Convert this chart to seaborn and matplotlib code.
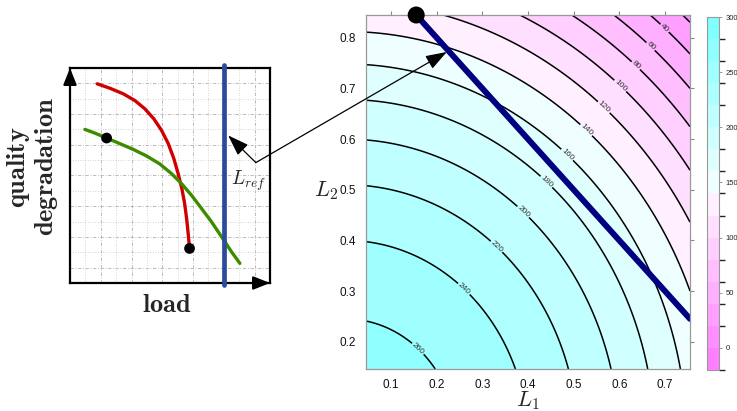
import numpy as np
import matplotlib
matplotlib.use('Agg')
import matplotlib.pyplot as plt
from matplotlib.colors import ListedColormap, BoundaryNorm, hsv_to_rgb
import seaborn as sns

# ---- left sketch (grid units) ----
red_x = [1.77, 2.60, 3.46, 4.22, 4.87, 5.45, 5.95, 6.39, 6.75, 7.03, 7.27, 7.45, 7.58, 7.68, 7.77]
red_y = [12.97, 12.68, 12.32, 11.88, 11.34, 10.69, 9.94, 9.07, 8.10, 7.12, 6.15, 5.18, 4.20, 3.23, 2.25]
green_x = [0.97, 1.62, 2.38, 3.25, 4.11, 4.98, 5.84, 6.60, 7.25, 7.90, 8.55, 9.20, 9.85, 10.50, 11.04]
green_y = [10.0, 9.76, 9.44, 9.07, 8.70, 8.27, 7.75, 7.12, 6.47, 5.71, 4.85, 3.98, 3.01, 2.03, 1.28]
dot_x = [2.38, 7.77]
dot_y = [9.44, 2.25]
L_ref = 10.0

# ---- right panel: quality surface over (L1, L2) ----
PEAK = 272.0      # value at L1 = L2 = 0
SLOPE = 200.0     # drop per unit of L1^2 + L2^2
unlabelled_levels = [20]
label_levels = list(range(40, 261, 20))
fill_levels = list(range(-20, 301, 20))
cbar_ticks = [0, 50, 100, 150, 200, 250, 300]
ref_L1 = [0.155, 0.755]   # L1 + L2 = 1
ref_L2 = [0.845, 0.245]

sns.set_theme(style='white')
plt.rcParams['font.family'] = ['Liberation Sans', 'DejaVu Sans']
plt.rcParams['mathtext.fontset'] = 'cm'

fig = plt.figure(figsize=(7.37, 4.11), dpi=100)

# ---------------- left sketch ----------------
ax1 = fig.add_axes([70 / 737, 1 - 283 / 411, 200 / 737, 215 / 411])
ax1.set_xlim(0, 13)
ax1.set_ylim(0, 14)
ax1.set_xticks(range(2, 13, 2))
ax1.set_xticks(range(1, 13, 2), minor=True)
ax1.set_yticks(range(1, 14, 2))
ax1.set_yticks(range(2, 14, 2), minor=True)
ax1.grid(which='major', ls=(0, (4, 2, 1, 2)), color='#b0b0b0', lw=0.6)
ax1.grid(which='minor', ls=(0, (1, 2)), color='#c8c8c8', lw=0.6)
ax1.tick_params(which='both', length=0, labelbottom=False, labelleft=False)
for sp in ax1.spines.values():
    sp.set_color('black')
    sp.set_linewidth(1.6)

sns.lineplot(x=red_x, y=red_y, sort=False, estimator=None, color='#d10000', lw=2.4, ax=ax1)
sns.lineplot(x=green_x, y=green_y, sort=False, estimator=None, color='#3d8c00', lw=2.4, ax=ax1)
ax1.axvline(L_ref, ymin=-0.01, ymax=1.015, color='#2b4b9b', lw=3.4, clip_on=False, zorder=4)
sns.scatterplot(x=dot_x, y=dot_y, s=60, color='black', edgecolor='none', ax=ax1, zorder=5)

head = dict(arrowstyle='-|>,head_length=1.0,head_width=0.4', color='black',
            lw=1.6, shrinkA=0, shrinkB=0, mutation_scale=10)
ax1.annotate('', xy=(0, 14), xytext=(0, 12.9), arrowprops=head, annotation_clip=False)
ax1.annotate('', xy=(13, 0), xytext=(11.9, 0), arrowprops=head, annotation_clip=False)

ax1.text(0.485, -0.10, r'$\mathbf{load}$', transform=ax1.transAxes,
         ha='center', va='center', fontsize=19)
ax1.text(-0.185, 0.54, '$\\mathbf{quality}$\n$\\mathbf{degradation}$', transform=ax1.transAxes,
         ha='center', va='center', rotation=90, fontsize=19, linespacing=1.05)
ax1.text(0.805, 0.456, r'$L_{ref}$', transform=ax1.transAxes,
         ha='left', va='baseline', fontsize=14)

thin = dict(arrowstyle='-|>,head_length=1.3,head_width=0.45', color='black',
            lw=0.9, shrinkA=0, shrinkB=0, mutation_scale=10)
ax1.annotate('', xy=(10.28, 9.61), xytext=(12.08, 7.84), arrowprops=thin)

# ---------------- right contour plot ----------------
ax2 = fig.add_axes([366 / 737, 1 - 369 / 411, 324 / 737, 354 / 411])
L1 = np.linspace(0.045, 0.755, 300)
L2 = np.linspace(0.146, 0.845, 300)
X, Y = np.meshgrid(L1, L2)
Z = PEAK - SLOPE * (X ** 2 + Y ** 2)

# R cm.colors(16), reversed so low = magenta, high = cyan
cyan = [hsv_to_rgb((0.5, s, 1.0)) for s in np.linspace(0.5, 0.0625, 8)]
magenta = [hsv_to_rgb((10 / 12, s, 1.0)) for s in np.linspace(0, 0.5, 9)[1:]]
cmap = ListedColormap((cyan + magenta)[::-1])
norm = BoundaryNorm(fill_levels, cmap.N)

cf = ax2.contourf(X, Y, Z, levels=fill_levels, cmap=cmap, norm=norm)
ax2.contour(X, Y, Z, levels=unlabelled_levels, colors='black', linewidths=1.1)
cs = ax2.contour(X, Y, Z, levels=label_levels, colors='black', linewidths=1.1)
ang = np.deg2rad(49.5)
spots = [(np.sqrt((PEAK - v) / SLOPE) * np.cos(ang), np.sqrt((PEAK - v) / SLOPE) * np.sin(ang))
         for v in label_levels]
ax2.clabel(cs, manual=spots, fmt='%d', fontsize=6,
           colors='#333333', inline=True, inline_spacing=1)

sns.lineplot(x=ref_L1, y=ref_L2, color='#000080', lw=4.3, ax=ax2, solid_capstyle='round')
sns.scatterplot(x=ref_L1[:1], y=ref_L2[:1], s=150, color='black', edgecolor='none',
                ax=ax2, zorder=6, clip_on=False)

ax2.set_xlim(0.045, 0.755)
ax2.set_ylim(0.146, 0.845)
ax2.set_xticks([0.1, 0.2, 0.3, 0.4, 0.5, 0.6, 0.7])
ax2.set_yticks([0.2, 0.3, 0.4, 0.5, 0.6, 0.7, 0.8])
ax2.tick_params(direction='out', length=3, width=0.8, color='#888888', top=True, right=True,
                labeltop=False, labelright=False, labelsize=8.5, pad=4, labelcolor='#111111')
for sp in ax2.spines.values():
    sp.set_color('#999999')
    sp.set_linewidth(0.9)
ax2.set_xlabel('')
ax2.set_ylabel('')
ax2.text(0.5, -0.058, r'$L_1$', transform=ax2.transAxes, ha='center', va='top', fontsize=16)
ax2.text(-0.087, 0.505, r'$L_2$', transform=ax2.transAxes, ha='right', va='center', fontsize=16)

ax2.annotate('', xy=(0.222, 0.772), xycoords='data', xytext=(12.08, 7.84),
             textcoords=ax1.transData, arrowprops=thin, annotation_clip=False)

cax = fig.add_axes([706.5 / 737, 1 - 370 / 411, 12.6 / 737, 353 / 411])
cb = fig.colorbar(cf, cax=cax, ticks=cbar_ticks)
cb.outline.set_edgecolor('#999999')
cb.outline.set_linewidth(0.8)
cax.tick_params(length=2.5, width=0.6, color='#888888', labelsize=5.5, pad=2)

fig.savefig('out.png', dpi=100)
